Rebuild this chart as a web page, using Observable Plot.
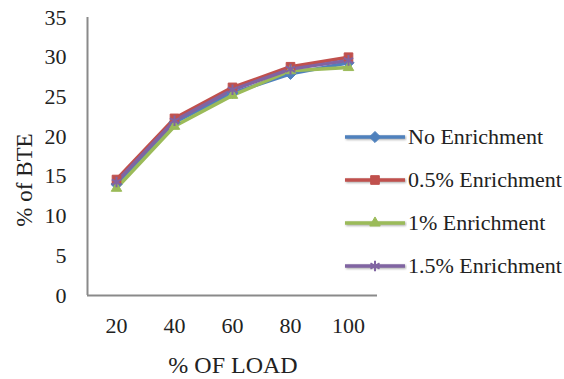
<!DOCTYPE html>
<html>
<head>
<meta charset="utf-8">
<script src="https://cdn.jsdelivr.net/npm/d3@7"></script>
<script src="https://cdn.jsdelivr.net/npm/@observablehq/plot@0.6"></script>
<style>
  body { margin: 0; background: #fff; }
  #chart { position: relative; width: 564px; height: 379px; font-family: "Liberation Serif", "Times New Roman", serif !important; color: #222; }
  #chart svg, #chart svg text { font-family: "Liberation Serif", "Times New Roman", serif !important; }
  #ylabel { position: absolute; left: 25px; top: 180px; transform: translate(-50%, -50%) rotate(-90deg); font-size: 23px; white-space: nowrap; }
  #xlabel { position: absolute; left: 233px; top: 365px; transform: translate(-50%, -50%); font-size: 24px; white-space: nowrap; }
  #legend { position: absolute; left: 343px; top: 115px; }
  .item { display: flex; align-items: center; height: 43px; font-size: 22px; white-space: nowrap; }
  .item svg { margin-right: 1px; flex: none; }
</style>
</head>
<body>
<div id="chart"><div id="ylabel">% of BTE</div><div id="xlabel">% OF LOAD</div><div id="legend"></div></div>
<script>
// Brake thermal efficiency vs. engine load for each enrichment level
const loads = [20, 40, 60, 80, 100];
const seriesNames = ["No Enrichment", "0.5% Enrichment", "1% Enrichment", "1.5% Enrichment"];
const noEnrichment = [14.0, 21.8, 25.5, 27.9, 29.3];
const enrichment05 = [14.6, 22.3, 26.2, 28.8, 30.0];
const enrichment1 = [13.5, 21.3, 25.2, 28.3, 28.7];
const enrichment15 = [14.3, 22.0, 25.9, 28.5, 29.6];
const yTicks = [0, 5, 10, 15, 20, 25, 30, 35];

const colors = ["#4F81BD", "#C0504D", "#9BBB59", "#8064A2"];
const symbols = ["diamond2", "square2", "triangle2", "asterisk"];
const sizes = [5, 5.5, 5, 5];

const seriesValues = [noEnrichment, enrichment05, enrichment1, enrichment15];
const rows = seriesValues.flatMap((vals, i) =>
  vals.map((v, j) => ({series: seriesNames[i], load: loads[j], bte: v}))
);

const shadow = "filter: drop-shadow(1px 1.5px 1px rgba(0,0,0,0.35))";
const lineMarks = seriesNames.map((name, i) =>
  Plot.line(rows.filter(d => d.series === name), {
    x: "load", y: "bte", stroke: colors[i], strokeWidth: 3.5, style: shadow
  })
);
const dotMarks = seriesNames.map((name, i) =>
  Plot.dot(rows.filter(d => d.series === name), {
    x: "load", y: "bte", symbol: () => symbols[i], r: sizes[i],
    fill: i === 3 ? "none" : colors[i], stroke: colors[i], strokeWidth: i === 3 ? 2 : 1
  })
);

const chart = Plot.plot({
  width: 564,
  height: 379,
  marginLeft: 87,
  marginRight: 187,
  marginTop: 17,
  marginBottom: 84,
  style: {fontSize: "22px", color: "#222", background: "#fff"},
  x: {domain: [10, 110], ticks: loads, tickSize: 0, tickPadding: 22, label: null},
  y: {domain: [0, 35], ticks: yTicks, tickSize: 0, tickPadding: 21, label: null},
  symbol: {type: "identity"},
  marks: [
    Plot.ruleX([10], {stroke: "#8a8a8a", strokeWidth: 2}),
    Plot.ruleY([0], {stroke: "#8a8a8a", strokeWidth: 2}),
    ...lineMarks,
    ...dotMarks
  ]
});
document.getElementById("chart").prepend(chart);

// Legend: line sample with marker followed by series name
const legend = d3.select("#legend");
const d3Symbols = [d3.symbolDiamond2, d3.symbolSquare2, d3.symbolTriangle2, d3.symbolAsterisk];
seriesNames.forEach((name, i) => {
  const item = legend.append("div").attr("class", "item");
  const svg = item.append("svg").attr("width", 64).attr("height", 20);
  svg.append("line").attr("x1", 2).attr("x2", 62).attr("y1", 10).attr("y2", 10)
    .attr("stroke", colors[i]).attr("stroke-width", 3.5)
    .attr("style", shadow);
  const area = Math.PI * sizes[i] * sizes[i];
  svg.append("path").attr("transform", "translate(32,10)")
    .attr("d", d3.symbol(d3Symbols[i], area)())
    .attr("fill", i === 3 ? "none" : colors[i]).attr("stroke", colors[i]).attr("stroke-width", i === 3 ? 2 : 1);
  item.append("span").text(name);
});
</script>
</body>
</html>
